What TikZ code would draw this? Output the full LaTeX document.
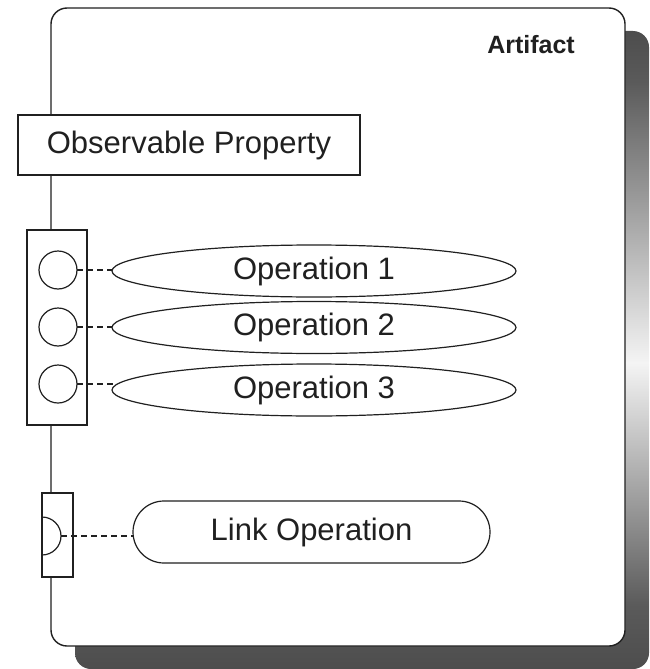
\documentclass[tikz,border=0pt]{standalone}
\usepackage{fontspec}
\setmainfont{Liberation Sans}
\usetikzlibrary{shapes.geometric,shapes.misc,calc}
\definecolor{shdark}{HTML}{4D4D4D}
\definecolor{shlight}{HTML}{F4F4F4}
\definecolor{ink}{HTML}{202020}
\pgfdeclareverticalshading{shadowshade}{100bp}{color(0bp)=(shdark); color(25bp)=(shdark); color(30bp)=(shdark!92!shlight); color(49bp)=(shlight); color(71bp)=(shdark!92!shlight); color(75bp)=(shdark); color(100bp)=(shdark)}
\begin{document}
\begin{tikzpicture}[x=1pt,y=-1pt,
  every node/.style={inner sep=0pt, outer sep=0pt, text=ink},
  lbl/.style={font=\fontsize{31}{36}\selectfont},
  box/.style={draw=ink, line width=1.2pt, fill=white},
  port/.style={circle, draw=ink, line width=1.2pt, fill=white, minimum size=38pt},
  opell/.style={ellipse, draw=ink, line width=1.2pt, fill=white, minimum width=404pt, minimum height=52pt, lbl},
  link/.style={draw=ink, line width=1.2pt, dash pattern=on 6pt off 4pt}]
\useasboundingbox (0,0) rectangle (650,669);
% shadow and artifact body
\node[rounded corners=16pt, shading=shadowshade, minimum width=574pt, minimum height=638pt] (shadow) at (362,350) {};
\node[rounded corners=16pt, draw=ink, line width=1.4pt, fill=white, minimum width=574pt, minimum height=638pt] (artifact) at (338,327) {};
\node[font=\bfseries\fontsize{25}{30}\selectfont] (title) at (531,45) {Artifact};
% observable property
\node[box, lbl, minimum width=342pt, minimum height=60pt] (obs) at (189,145) {Observable Property};
% operations
\node[box, minimum width=60pt, minimum height=195pt] (ops) at (57,327.5) {};
\node[port] (c1) at (58,270) {};
\node[port] (c2) at (58,327) {};
\node[port] (c3) at (58,384) {};
\node[opell] (e1) at (314,271) {Operation 1};
\node[opell] (e2) at (314,327.5) {Operation 2};
\node[opell] (e3) at (314,390) {Operation 3};
\draw[link] (c1.east) -- (c1.east -| e1.west);
\draw[link] (c2.east) -- (c2.east -| e2.west);
\draw[link] (c3.east) -- ($(c3.east -| e3.west)+(3,0)$);
% link operation
\node[box, minimum width=31pt, minimum height=84pt] (lb) at (57.5,535) {};
\draw[draw=ink, line width=1.2pt] (42,517) arc[start angle=-90, end angle=90, radius=19];
\coordinate (hc) at (61,536);
\node[rounded rectangle, draw=ink, line width=1.2pt, fill=white, minimum width=357pt, minimum height=62pt, lbl] (lo) at (311.5,532) {Link Operation};
\draw[link] (hc) -- (hc -| lo.west);
\end{tikzpicture}
\end{document}
